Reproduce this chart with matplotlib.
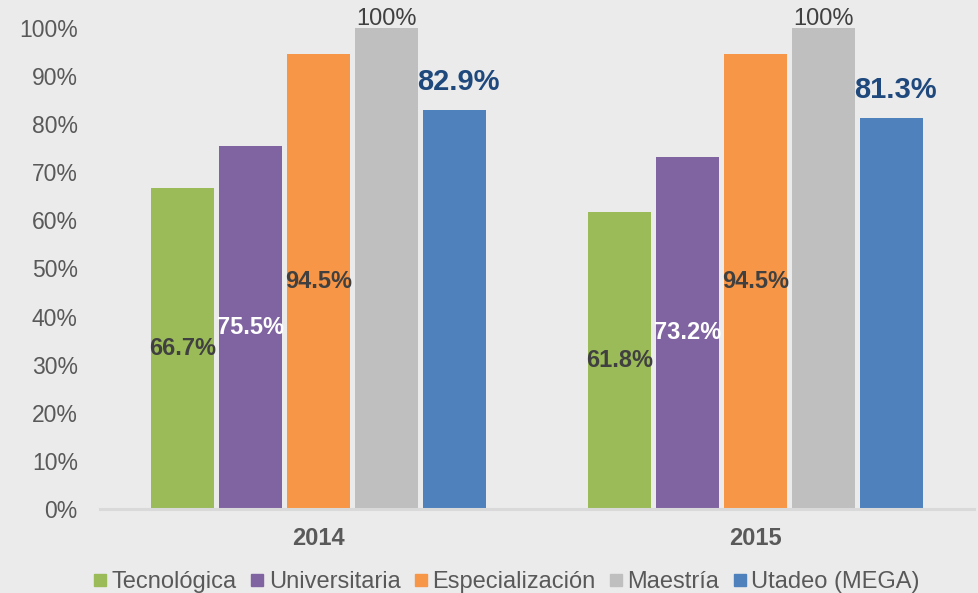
import numpy as np
import matplotlib
matplotlib.use('Agg')
import matplotlib.pyplot as plt
from matplotlib.lines import Line2D
from matplotlib.ticker import FuncFormatter

plt.rcParams['font.family'] = ['Liberation Sans', 'DejaVu Sans']

# data (percent)
years = ['2014', '2015']
series = ['Tecnológica', 'Universitaria', 'Especialización', 'Maestría', 'Utadeo (MEGA)']
tecnologica = [66.7, 61.8]
universitaria = [75.5, 73.2]
especializacion = [94.5, 94.5]
maestria = [100, 100]
utadeo = [82.9, 81.3]

colors = ['#9BBB59', '#8064A2', '#F79646', '#BFBFBF', '#4F81BD']
bg = '#EBEBEB'
W, H = 979, 593

fig = plt.figure(figsize=(W / 100, H / 100), dpi=100, facecolor=bg)
ax = fig.add_axes([100 / W, (H - 509) / H, 874 / W, 481 / H], facecolor=bg)

x = np.arange(len(years))
bw = 0.142
pitch = 0.1556
all_vals = [tecnologica, universitaria, especializacion, maestria, utadeo]

for i, vals in enumerate(all_vals):
    pos = x + (i - 2) * pitch
    ax.bar(pos, vals, width=bw, color=colors[i], zorder=2)
    for xp, v in zip(pos, vals):
        lbl = '{:g}%'.format(v) if v == 100 else '{:.1f}%'.format(v)
        if i in (0, 2):
            ax.text(xp, v / 2, lbl, ha='center', va='center', fontsize=17,
                    fontweight='bold', color='#404040', zorder=3)
        elif i == 1:
            ax.text(xp, v / 2, lbl, ha='center', va='center', fontsize=17,
                    fontweight='bold', color='white', zorder=3)
        elif i == 3:
            ax.text(xp, v - 0.5, lbl, ha='center', va='bottom', fontsize=17,
                    color='#404040', zorder=3)
        else:
            ax.text(xp + 0.01, v + 2.9, lbl, ha='center', va='bottom', fontsize=21,
                    fontweight='bold', color='#1F497D', zorder=3)

ax.set_xlim(-0.5, 1.5)
ax.set_ylim(0, 100)
ax.set_yticks(np.arange(0, 101, 10))
ax.yaxis.set_major_formatter(FuncFormatter(lambda v, p: '{:.0f}%'.format(v)))
ax.set_xticks(x)
ax.set_xticklabels(years, fontsize=17, fontweight='bold', color='#595959')
ax.tick_params(axis='y', length=0, labelsize=16.5, labelcolor='#595959', pad=16)
ax.tick_params(axis='x', length=0, pad=13)

for s in ['top', 'right', 'left']:
    ax.spines[s].set_visible(False)
ax.spines['bottom'].set_color('#D9D9D9')
ax.spines['bottom'].set_linewidth(2.2)
ax.spines['bottom'].set_zorder(4)

handles = [Line2D([], [], marker='s', linestyle='none', markersize=9,
                  markerfacecolor=c, markeredgecolor=c) for c in colors]
fig.legend(handles, series, loc='center', bbox_to_anchor=(507 / W, 1 - 582 / H),
           ncol=5, frameon=False, fontsize=17, labelcolor='#595959',
           handlelength=0.5, handletextpad=0.25, columnspacing=0.6,
           borderpad=0, borderaxespad=0)

fig.savefig('out.png', dpi=100, facecolor=bg)
